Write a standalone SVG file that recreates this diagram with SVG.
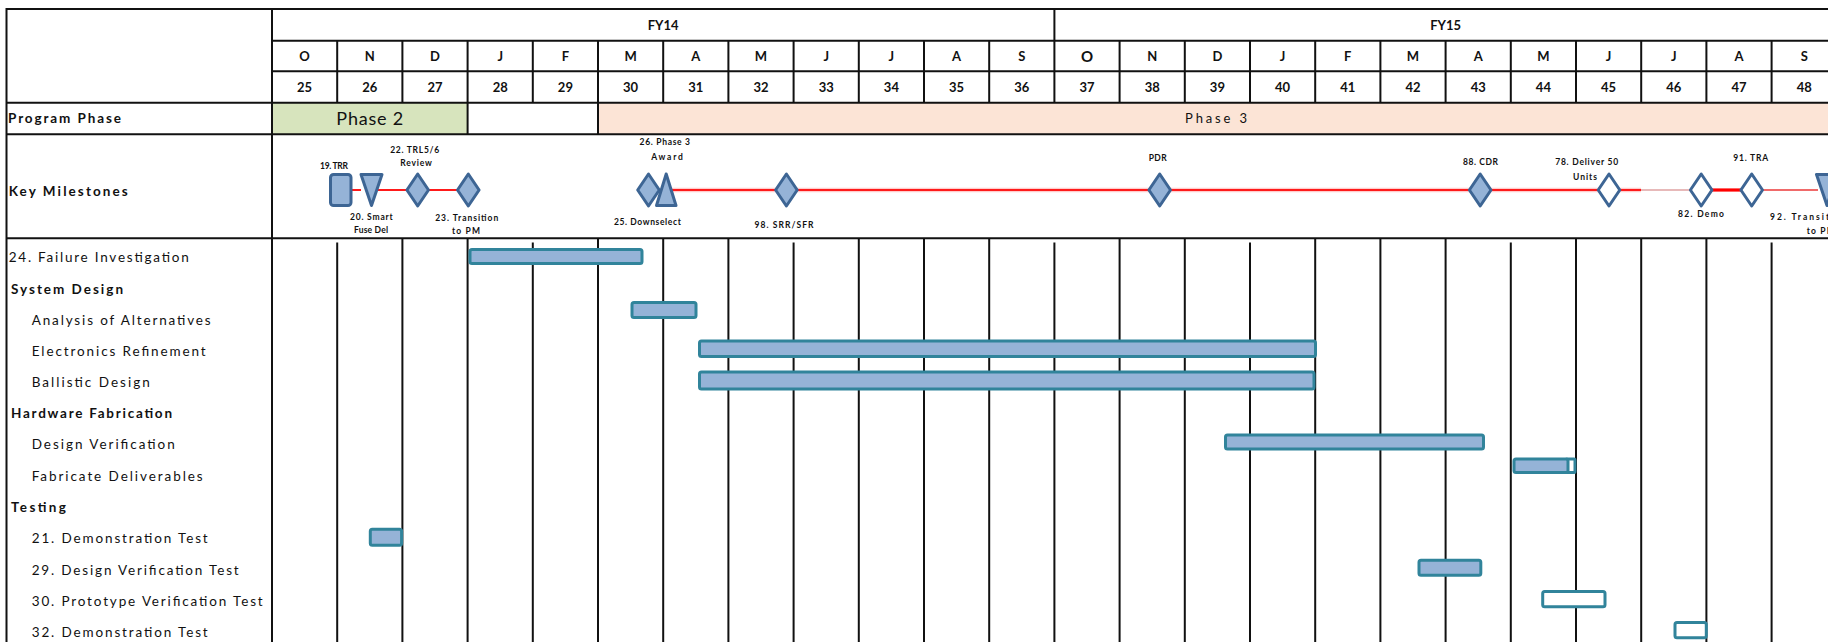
<svg xmlns="http://www.w3.org/2000/svg" width="1828" height="642" viewBox="0 0 1828 642">
<style>
text{font-family:Lato,"Liberation Sans",sans-serif;fill:#111}
.b{font-weight:bold}
.h{font-size:13px;font-weight:bold;text-anchor:middle}
.lbl{font-size:13.5px}
.ms{font-size:8.5px;font-weight:bold;text-anchor:middle}
.grid{stroke:#111;stroke-width:2;fill:none}
.dia{fill:#95B3D7;stroke:#3D6594;stroke-width:3;stroke-linejoin:round}
.wdia{fill:#fff;stroke:#3D6594;stroke-width:3;stroke-linejoin:round}
.bar{fill:#95B3D7;stroke:#31849B;stroke-width:3;stroke-linejoin:round}
.wbar{fill:#fff;stroke:#31849B;stroke-width:3;stroke-linejoin:round}
.red{stroke:#FF1A1A;stroke-width:2.2;fill:none}
</style>
<rect x="0" y="0" width="1828" height="642" fill="#fff"/>
<g id="table">
<rect x="272" y="102.7" width="195.6" height="31.6" fill="#D7E4BD"/>
<rect x="598" y="102.7" width="1240" height="31.6" fill="#FCE4D6"/>
<g class="grid">
<line x1="6.5" y1="9" x2="1828" y2="9"/>
<line x1="272" y1="40.7" x2="1828" y2="40.7"/>
<line x1="272" y1="71.3" x2="1828" y2="71.3"/>
<line x1="6.5" y1="102.7" x2="1828" y2="102.7"/>
<line x1="6.5" y1="134.3" x2="1828" y2="134.3"/>
<line x1="6.5" y1="238.3" x2="1828" y2="238.3"/>
<line x1="6.5" y1="8" x2="6.5" y2="642"/>
<line x1="272" y1="8" x2="272" y2="642"/>
<line x1="1054.4" y1="9" x2="1054.4" y2="40.7"/>
<line x1="467.6" y1="102.7" x2="467.6" y2="134.3"/>
<line x1="598" y1="102.7" x2="598" y2="134.3"/>
<path d="M337.2 40.7V102.7M402.4 40.7V102.7M467.6 40.7V102.7M532.8 40.7V102.7M598 40.7V102.7M663.2 40.7V102.7M728.4 40.7V102.7M793.6 40.7V102.7M858.8 40.7V102.7M924 40.7V102.7M989.2 40.7V102.7M1054.4 40.7V102.7M1119.6 40.7V102.7M1184.8 40.7V102.7M1250 40.7V102.7M1315.2 40.7V102.7M1380.4 40.7V102.7M1445.6 40.7V102.7M1510.8 40.7V102.7M1576 40.7V102.7M1641.2 40.7V102.7M1706.4 40.7V102.7M1771.6 40.7V102.7"/>
<path d="M337.2 242.5V642M402.4 238.3V642M467.6 238.3V642M532.8 242.5V642M598 238.3V642M663.2 238.3V642M728.4 238.3V642M793.6 242.5V642M858.8 238.3V642M924 238.3V642M989.2 238.3V642M1054.4 242.5V642M1119.6 238.3V642M1184.8 238.3V642M1250 242.5V642M1315.2 238.3V642M1380.4 238.3V642M1445.6 238.3V642M1510.8 242.5V642M1576 238.3V642M1641.2 238.3V642M1706.4 238.3V642M1771.6 242.5V642"/>
</g>
<text class="h" x="663.2" y="30">FY14</text>
<text class="h" x="1445.6" y="30">FY15</text>
<g class="h">
<text class="h" x="304.6" y="61">O</text><text class="h" x="369.8" y="61">N</text><text class="h" x="435" y="61">D</text><text class="h" x="500.2" y="61">J</text><text class="h" x="565.4" y="61">F</text><text class="h" x="630.6" y="61">M</text><text class="h" x="695.8" y="61">A</text><text class="h" x="761" y="61">M</text><text class="h" x="826.2" y="61">J</text><text class="h" x="891.4" y="61">J</text><text class="h" x="956.6" y="61">A</text><text class="h" x="1021.8" y="61">S</text>
<text x="1087" y="62" style="font-size:15px;text-anchor:middle">O</text><text class="h" x="1152.2" y="61">N</text><text class="h" x="1217.4" y="61">D</text><text class="h" x="1282.6" y="61">J</text><text class="h" x="1347.8" y="61">F</text><text class="h" x="1413" y="61">M</text><text class="h" x="1478.2" y="61">A</text><text class="h" x="1543.4" y="61">M</text><text class="h" x="1608.6" y="61">J</text><text class="h" x="1673.8" y="61">J</text><text class="h" x="1739" y="61">A</text><text class="h" x="1804.2" y="61">S</text>
</g>
<g>
<text class="h" x="304.6" y="92">25</text><text class="h" x="369.8" y="92">26</text><text class="h" x="435" y="92">27</text><text class="h" x="500.2" y="92">28</text><text class="h" x="565.4" y="92">29</text><text class="h" x="630.6" y="92">30</text><text class="h" x="695.8" y="92">31</text><text class="h" x="761" y="92">32</text><text class="h" x="826.2" y="92">33</text><text class="h" x="891.4" y="92">34</text><text class="h" x="956.6" y="92">35</text><text class="h" x="1021.8" y="92">36</text>
<text class="h" x="1087" y="92">37</text><text class="h" x="1152.2" y="92">38</text><text class="h" x="1217.4" y="92">39</text><text class="h" x="1282.6" y="92">40</text><text class="h" x="1347.8" y="92">41</text><text class="h" x="1413" y="92">42</text><text class="h" x="1478.2" y="92">43</text><text class="h" x="1543.4" y="92">44</text><text class="h" x="1608.6" y="92">45</text><text class="h" x="1673.8" y="92">46</text><text class="h" x="1739" y="92">47</text><text class="h" x="1804.2" y="92">48</text>
</g>
<text x="369.8" y="124.7" style="font-size:18px;text-anchor:middle" textLength="67">Phase 2</text>
<text x="1216" y="123" style="font-size:13px;text-anchor:middle" textLength="62">Phase 3</text>
</g>
<g id="labels">
<text class="lbl b" x="8" y="123" textLength="113">Program Phase</text>
<text class="lbl b" x="8.7" y="196.2" textLength="119">Key Milestones</text>
<text class="lbl" x="8.7" y="262" textLength="180">24. Failure Investigation</text>
<text class="lbl b" x="11" y="293.5" textLength="112">System Design</text>
<text class="lbl" x="31.7" y="324.5" textLength="179">Analysis of Alternatives</text>
<text class="lbl" x="31.7" y="355.5" textLength="174">Electronics Refinement</text>
<text class="lbl" x="31.7" y="386.5" textLength="118">Ballistic Design</text>
<text class="lbl b" x="11" y="417.8" textLength="161">Hardware Fabrication</text>
<text class="lbl" x="31.7" y="448.8" textLength="143">Design Verification</text>
<text class="lbl" x="31.7" y="480.5" textLength="171">Fabricate Deliverables</text>
<text class="lbl b" x="11" y="512.2" textLength="55">Testing</text>
<text class="lbl" x="31.7" y="543.2" textLength="176">21. Demonstration Test</text>
<text class="lbl" x="31.7" y="574.5" textLength="207">29. Design Verification Test</text>
<text class="lbl" x="31.7" y="606.2" textLength="231">30. Prototype Verification Test</text>
<text class="lbl" x="31.7" y="636.8" textLength="176">32. Demonstration Test</text>
</g>
<g id="connectors">
<line x1="671" y1="190" x2="1641" y2="190" stroke="#FF9A9A" stroke-width="4.5" opacity="0.5"/>
<path class="red" d="M351.7 190H361M376 190H407M429 190H457M671 190H1641"/>
<line x1="1641" y1="190" x2="1691" y2="190" stroke="#E7B9B9" stroke-width="2.2"/>
<line x1="1711" y1="190" x2="1742" y2="190" stroke="#FF0000" stroke-width="3.2"/>
<line x1="1762" y1="190" x2="1818" y2="190" stroke="#F06A6A" stroke-width="2.2"/>
</g>
<g id="m19"><rect class="dia" x="330.5" y="174.5" width="20.5" height="31" rx="3"/><text class="ms" x="334" y="168.5" textLength="28">19. TRR</text></g>
<g id="m20"><polygon class="dia" points="361,174.5 382,174.5 371.5,205.5"/><text class="ms" x="371.3" y="219.5" textLength="42.7">20. Smart</text><text class="ms" x="371" y="233" textLength="34">Fuse Del</text></g>
<g id="m22"><polygon class="dia" points="417.7,174 428.5,190 417.7,206 406.9,190"/><text class="ms" x="414.7" y="153" textLength="49">22. TRL5/6</text><text class="ms" x="416" y="166.3" textLength="31.7">Review</text></g>
<g id="m23"><polygon class="dia" points="468.3,174 479.1,190 468.3,206 457.5,190"/><text class="ms" x="466.7" y="221.3" textLength="63">23. Transition</text><text class="ms" x="466" y="234" textLength="28">to PM</text></g>
<g id="m25"><polygon class="dia" points="648.5,174 659.3,190 648.5,206 637.7,190"/><text class="ms" x="647.4" y="224.7" textLength="67">25. Downselect</text></g>
<g id="m26"><polygon class="dia" points="656.5,205.5 676,205.5 666.2,174"/><text class="ms" x="664.8" y="144.7" textLength="50.5">26. Phase 3</text><text class="ms" x="667" y="159.7" textLength="31.6">Award</text></g>
<g id="m98"><polygon class="dia" points="786.4,174 797.2,190 786.4,206 775.6,190"/><text class="ms" x="784" y="228" textLength="59">98. SRR/SFR</text></g>
<g id="mPDR"><polygon class="dia" points="1159.7,174 1170.5,190 1159.7,206 1148.9,190"/><text class="ms" x="1157.7" y="161.3" textLength="18">PDR</text></g>
<g id="m88"><polygon class="dia" points="1480.2,174 1491,190 1480.2,206 1469.4,190"/><text class="ms" x="1480.5" y="164.7" textLength="35">88. CDR</text></g>
<g id="m78"><polygon class="wdia" points="1609,174 1619.8,190 1609,206 1598.2,190"/><text class="ms" x="1586.7" y="164.7" textLength="63">78. Deliver 50</text><text class="ms" x="1585" y="180.3" textLength="24">Units</text></g>
<g id="m82"><polygon class="wdia" points="1701.2,174 1712,190 1701.2,206 1690.4,190"/><text class="ms" x="1701" y="217.3" textLength="46">82. Demo</text></g>
<g id="m91"><polygon class="wdia" points="1751.7,174 1762.5,190 1751.7,206 1740.9,190"/><text class="ms" x="1750.7" y="160.7" textLength="35">91. TRA</text></g>
<g id="m92"><polygon class="dia" points="1816.5,174.5 1837.5,174.5 1827,205.5"/><text class="ms" x="1770" y="219.7" style="text-anchor:start" textLength="75">92. Transition</text><text class="ms" x="1806.7" y="234" style="text-anchor:start" textLength="28">to PM</text></g>
<g id="t24"><rect class="bar" x="470" y="249.5" width="172" height="14" rx="2"/></g>
<g id="tAoA"><rect class="bar" x="632" y="302.5" width="64" height="15" rx="2"/></g>
<g id="tER"><rect class="bar" x="699.5" y="341" width="616" height="15.5" rx="2"/></g>
<g id="tBD"><rect class="bar" x="699.5" y="372" width="614.5" height="17" rx="2"/></g>
<g id="tDV"><rect class="bar" x="1225.5" y="435" width="258" height="14" rx="2"/></g>
<g id="tFD"><rect class="wbar" x="1566" y="459" width="9" height="13.5" rx="1"/><rect class="bar" x="1514" y="459" width="54" height="13.5" rx="2"/></g>
<g id="t21"><rect class="bar" x="370.3" y="529.2" width="31.3" height="16" rx="2"/></g>
<g id="t29"><rect class="bar" x="1419" y="560.2" width="61.8" height="15" rx="2"/></g>
<g id="t30"><rect class="wbar" x="1542.7" y="591.5" width="62.3" height="15.3" rx="2"/></g>
<g id="t32"><rect class="wbar" x="1675" y="622.5" width="31.3" height="15.3" rx="2"/></g>
</svg>
